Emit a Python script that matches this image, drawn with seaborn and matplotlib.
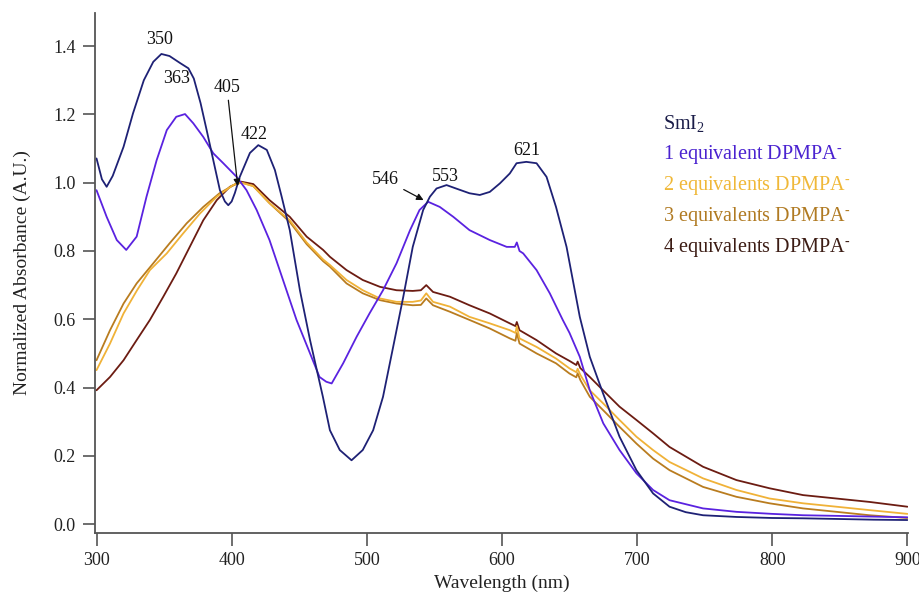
import numpy as np
import pandas as pd
import seaborn as sns
import matplotlib

matplotlib.use("Agg")
import matplotlib.pyplot as plt

# --- data -----------------------------------------------------------------
smi2_wl = [300, 304, 307.5, 312, 320, 327, 335, 342, 348, 354, 362, 368, 372, 377,
           381.5, 386.4, 391.3, 395, 397.5, 400, 402.4, 406, 413.5, 419.7, 426, 432,
           437, 443, 450.5, 458, 467.5, 472.7, 480, 488.7, 497, 504.7, 512, 519.5,
           527, 534, 541.7, 546.7, 551.6, 559, 566, 576, 583.6, 591, 598.5, 605.8,
           610.8, 618, 625.6, 633, 640, 647.8, 657.6, 665, 674.8, 687, 699.5, 711.8,
           724, 736, 748.8, 773.5, 800, 822.8, 850, 875, 900]
smi2_abs = [1.071, 1.01, 0.988, 1.02, 1.105, 1.203, 1.30, 1.354, 1.377, 1.371, 1.35,
            1.335, 1.305, 1.233, 1.154, 1.066, 0.978, 0.945, 0.934, 0.945, 0.970,
            1.017, 1.087, 1.110, 1.096, 1.037, 0.959, 0.861, 0.685, 0.539, 0.373,
            0.275, 0.217, 0.187, 0.217, 0.275, 0.373, 0.519, 0.666, 0.812, 0.920,
            0.959, 0.983, 0.993, 0.983, 0.969, 0.964, 0.973, 0.998, 1.027, 1.057,
            1.061, 1.057, 1.017, 0.929, 0.812, 0.607, 0.49, 0.383, 0.256, 0.158,
            0.090, 0.051, 0.035, 0.026, 0.021, 0.018, 0.017, 0.015, 0.013, 0.012]

eq1_wl = [300, 307.5, 315, 322, 329.7, 337, 344.5, 352, 359, 365.5, 371.6, 379, 386.4,
          393.8, 403.7, 411, 418.5, 428, 438, 448, 458, 465, 470, 474, 482.5, 492.5,
          502, 512, 522, 532, 539, 545.4, 554, 564, 576, 591, 603.5, 609.5, 611, 613,
          615.7, 625.6, 635.4, 645, 650, 657.6, 665, 675, 687, 699.5, 711.8, 724,
          748.8, 773.5, 800, 822.8, 850, 875, 900]
eq1_abs = [0.978, 0.90, 0.832, 0.803, 0.842, 0.959, 1.066, 1.154, 1.193, 1.201, 1.174,
           1.134, 1.086, 1.057, 1.017, 0.978, 0.92, 0.832, 0.715, 0.598, 0.50, 0.431,
           0.417, 0.412, 0.471, 0.549, 0.617, 0.685, 0.764, 0.861, 0.92, 0.944, 0.929,
           0.90, 0.861, 0.832, 0.812, 0.812, 0.825, 0.80, 0.793, 0.744, 0.676, 0.598,
           0.56, 0.49, 0.392, 0.295, 0.217, 0.149, 0.10, 0.07, 0.046, 0.036, 0.03,
           0.026, 0.024, 0.022, 0.02]

eq2_wl = [300, 310, 320, 330, 339.5, 352, 364, 376.6, 389, 401, 407, 416, 428, 443,
          455.5, 467.7, 472.7, 485, 497, 509.7, 522, 534, 540, 544, 549, 561.5, 576,
          591, 605.8, 610, 611, 613, 625.6, 640, 650, 655, 656, 658, 665, 674.8, 687,
          699.5, 711.8, 724, 748.8, 773.5, 798, 822.8, 847.5, 872, 900]
eq2_abs = [0.451, 0.529, 0.617, 0.685, 0.744, 0.793, 0.851, 0.91, 0.959, 0.993, 1.0,
           0.99, 0.94, 0.89, 0.825, 0.775, 0.759, 0.715, 0.685, 0.661, 0.651, 0.651,
           0.655, 0.676, 0.651, 0.637, 0.607, 0.588, 0.568, 0.56, 0.58, 0.544, 0.519,
           0.485, 0.456, 0.445, 0.455, 0.437, 0.392, 0.354, 0.305, 0.256, 0.217,
           0.182, 0.134, 0.10, 0.075, 0.061, 0.051, 0.041, 0.03]

eq3_wl = [300, 310, 320, 329.7, 342, 354, 366.7, 379, 391, 403.7, 408, 416, 428, 443,
          455.5, 467.7, 472.7, 485, 497, 509.7, 522, 534, 540, 544, 549, 561.5, 576,
          591, 605.8, 610, 611, 613, 625.6, 640, 650, 655, 656, 658, 665, 674.8, 687,
          699.5, 711.8, 724, 748.8, 773.5, 798, 822.8, 847.5, 872, 900]
eq3_abs = [0.48, 0.568, 0.646, 0.705, 0.764, 0.822, 0.881, 0.929, 0.969, 0.998, 1.0,
           0.99, 0.94, 0.885, 0.82, 0.77, 0.754, 0.705, 0.676, 0.656, 0.646, 0.641,
           0.642, 0.661, 0.641, 0.622, 0.598, 0.573, 0.544, 0.537, 0.56, 0.529, 0.50,
           0.471, 0.441, 0.43, 0.442, 0.422, 0.373, 0.334, 0.285, 0.236, 0.192, 0.158,
           0.109, 0.08, 0.061, 0.046, 0.036, 0.026, 0.018]

eq4_wl = [300, 310, 320, 329.7, 339.5, 349.4, 359, 369, 379, 389, 398.7, 407, 416, 428,
          443, 455.5, 467.7, 472.7, 485, 497, 509.7, 522, 534, 540, 544, 549, 561.5,
          576, 591, 605.8, 610, 611, 613, 625.6, 640, 650, 655, 656, 658, 665, 674.8,
          687, 699.5, 711.8, 724, 748.8, 773.5, 798, 822.8, 847.5, 872, 900]
eq4_abs = [0.392, 0.431, 0.48, 0.539, 0.598, 0.666, 0.734, 0.812, 0.89, 0.949, 0.988,
           1.003, 0.996, 0.949, 0.90, 0.842, 0.803, 0.783, 0.744, 0.715, 0.695, 0.685,
           0.683, 0.685, 0.70, 0.68, 0.666, 0.641, 0.617, 0.588, 0.58, 0.592, 0.568,
           0.539, 0.50, 0.478, 0.466, 0.476, 0.457, 0.431, 0.392, 0.344, 0.305, 0.266,
           0.226, 0.168, 0.129, 0.105, 0.085, 0.075, 0.065, 0.051]

labels = ["SmI$_2$", "1 equivalent DPMPA$^{\u2010}$", "2 equivalents DPMPA$^{\u2010}$",
          "3 equivalents DPMPA$^{\u2010}$", "4 equivalents DPMPA$^{\u2010}$"]
line_colors = ["#1e2175", "#5a22e0", "#f0b238", "#b97c1f", "#6c1c12"]
text_colors = ["#1a1c48", "#4a22d0", "#f0b838", "#b07a22", "#3c1c14"]

# peak labels: (text, x, y) and arrow labels (text, text xy, arrow tip xy)
peak_labels = [("350", 347, 1.418), ("363", 359.5, 1.306), ("422", 416.5, 1.142),
               ("553", 558.5, 1.019), ("621", 618.5, 1.095)]
arrow_labels = [("405", (396.5, 1.280), (404.5, 0.99)),
                ("546", (514, 1.008), (542, 0.949))]

# --- plot ------------------------------------------------------------------
sns.set_style("ticks")
plt.rcParams["font.family"] = ["Liberation Serif", "DejaVu Serif"]
plt.rcParams["mathtext.fontset"] = "custom"
plt.rcParams["mathtext.rm"] = "Liberation Serif"
plt.rcParams["mathtext.it"] = "Liberation Serif:italic"

fig = plt.figure(figsize=(9.19, 5.96), dpi=100)
ax = fig.add_axes([0.1034, 0.1057, 0.8847, 0.8725])

series = [(smi2_wl, smi2_abs), (eq1_wl, eq1_abs), (eq2_wl, eq2_abs),
          (eq3_wl, eq3_abs), (eq4_wl, eq4_abs)]
frames = []
for lab, (wl, ab) in zip(labels, series):
    frames.append(pd.DataFrame({"wl": wl, "abs": ab, "sample": lab}))
df = pd.concat(frames, ignore_index=True)

# draw the brown ones first so the blue ones sit on top
order = [labels[4], labels[3], labels[2], labels[1], labels[0]]
for lab in order:
    i = labels.index(lab)
    sns.lineplot(data=df[df["sample"] == lab], x="wl", y="abs", color=line_colors[i],
                 linewidth=1.3, ax=ax, legend=False)

for txt, x, y in peak_labels:
    ax.text(x, y, txt, ha="center", va="center", fontsize=13, color="#111111")
for txt, xy_text, xy in arrow_labels:
    ax.annotate(txt, xy=xy, xytext=xy_text, ha="center", va="center", fontsize=13,
                color="#111111",
                arrowprops=dict(arrowstyle="-|>", color="#111111", lw=0.9,
                                shrinkA=1, shrinkB=0, mutation_scale=10))

# legend as coloured text lines
for i, lab in enumerate(labels):
    fig.text(0.7214, 0.792 - i * 0.052, lab, ha="left", va="center", fontsize=14.5,
             color=text_colors[i])

ax.set_xlim(298.9, 900.5)
ax.set_ylim(-0.026, 1.497)
ax.set_xticks(np.arange(300, 901, 100))
ax.set_yticks(np.arange(0, 1.41, 0.2))
ax.set_yticklabels([f"{v:.1f}" for v in np.arange(0, 1.41, 0.2)])
ax.set_xlabel("Wavelength (nm)", fontsize=14, color="#222222", labelpad=4)
ax.set_ylabel("Normalized Absorbance (A.U.)", fontsize=14, color="#222222", labelpad=16)
ax.tick_params(axis="both", direction="out", length=9, width=1.2, color="#555555",
               labelsize=13, labelcolor="#222222", pad=5)
sns.despine(ax=ax)
for side in ["left", "bottom"]:
    ax.spines[side].set_color("#555555")
    ax.spines[side].set_linewidth(1.3)

plt.savefig("out.png", dpi=100)
plt.close()
